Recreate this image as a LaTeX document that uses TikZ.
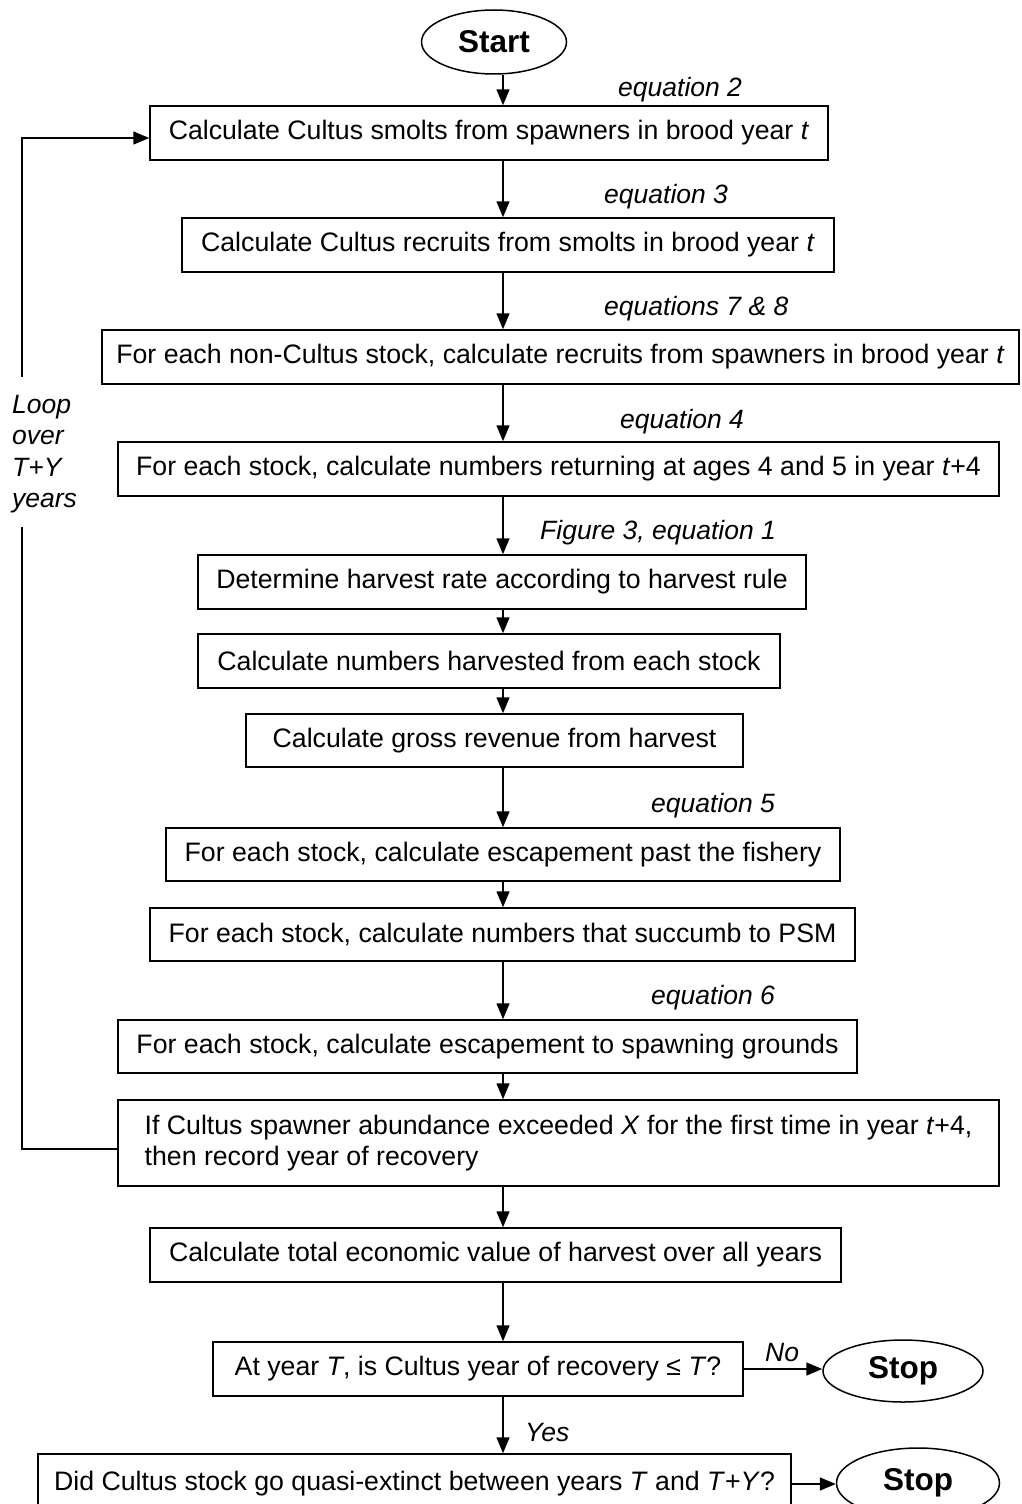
\documentclass[tikz,border=0pt]{standalone}
\usepackage{fontspec}
\setmainfont{Liberation Sans}
\usetikzlibrary{arrows.meta,shapes.geometric}
\newcommand\bxf{\fontsize{26.7}{31}\selectfont}
\newcommand\labf{\fontsize{26.5}{31.3}\selectfont\itshape}
\newcommand\bigf{\fontsize{31.5}{36}\selectfont\bfseries}
\begin{document}
\begin{tikzpicture}[x=1pt,y=-1pt,
  box/.style={draw, line width=1.5pt, rectangle, inner sep=0pt, minimum height=54pt, font=\bxf},
  term/.style={draw, line width=1.5pt, ellipse, inner sep=0pt, font=\bigf},
  lab/.style={font=\labf, anchor=west, inner sep=0pt},
  arr/.style={line width=1.5pt, -{Triangle[length=16pt,width=13pt]}},
  ln/.style={line width=1.5pt}]
\clip (0,0) rectangle (1021,1504);
\fill[white] (0,0) rectangle (1021,1504);
\coordinate (ax) at (503,0);

\node[term, minimum width=145pt, minimum height=64pt] (st) at (494,42) {Start};
\node[lab] (l2) at (618,90) {equation 2};
\node[box, minimum width=678pt] (b1) at (489,133) {Calculate Cultus smolts from spawners in brood year \textit{t}};
\node[lab] (l3) at (604,197) {equation 3};
\node[box, minimum width=652pt] (b2) at (508,245) {Calculate Cultus recruits from smolts in brood year \textit{t}};
\node[lab] (l78) at (604,309) {equations 7 \& 8};
\node[box, minimum width=917pt] (b3) at (560.5,357) {For each non-Cultus stock, calculate recruits from spawners in brood year \textit{t}};
\node[lab] (l4) at (620,422) {equation 4};
\node[box, minimum width=881pt] (b4) at (558.5,469) {For each stock, calculate numbers returning at ages 4 and 5 in year \textit{t}+4};
\node[lab] (l1) at (540,533) {Figure 3, equation 1};
\node[box, minimum width=608pt] (b5) at (502,582) {Determine harvest rate according to harvest rule};
\node[box, minimum width=582pt] (b6) at (489,661) {Calculate numbers harvested from each stock};
\node[box, minimum width=497pt, minimum height=53pt] (b7) at (494.5,740.5) {Calculate gross revenue from harvest};
\node[lab] (l5) at (651,806) {equation 5};
\node[box, minimum width=674pt, minimum height=53pt] (b8) at (503,854.5) {For each stock, calculate escapement past the fishery};
\node[box, minimum width=705pt, minimum height=53pt] (b9) at (502.5,934.5) {For each stock, calculate numbers that succumb to PSM};
\node[lab] (l6) at (651,998) {equation 6};
\node[box, minimum width=739pt, minimum height=53pt] (b10) at (487.5,1046.5) {For each stock, calculate escapement to spawning grounds};
\node[box, minimum width=881pt, minimum height=86pt, align=left] (b11) at (558.5,1143) {If Cultus spawner abundance exceeded \textit{X} for the first time in year \textit{t}+4,\\then record year of recovery};
\node[box, minimum width=691pt] (b12) at (495.5,1255) {Calculate total economic value of harvest over all years};
\node[box, minimum width=530pt] (b13) at (478,1369) {At year \textit{T}, is Cultus year of recovery ≤ \textit{T}?};
\node[term, minimum width=160pt, minimum height=62pt] (s1) at (903,1371) {Stop};
\node[lab] (lno) at (765,1352) {No};
\node[lab] (lyes) at (525,1432) {Yes};
\node[box, minimum width=753pt, minimum height=60pt] (b14) at (414.5,1484) {Did Cultus stock go quasi-extinct between years \textit{T} and \textit{T}+\textit{Y}?};
\node[term, minimum width=163pt, minimum height=70pt] (s2) at (918,1483) {Stop};

\node[lab, align=left, anchor=west] (loop) at (12,454) {Loop\\over\\T+Y\\years};
\coordinate (lb) at (22,527);
\coordinate (lt) at (22,377);

\draw[arr] (st.south -| ax) -- (b1.north -| ax);
\draw[arr] (b1.south -| ax) -- (b2.north -| ax);
\draw[arr] (b2.south -| ax) -- (b3.north -| ax);
\draw[arr] (b3.south -| ax) -- (b4.north -| ax);
\draw[arr] (b4.south -| ax) -- (b5.north -| ax);
\draw[arr] (b5.south -| ax) -- (b6.north -| ax);
\draw[arr] (b6.south -| ax) -- (b7.north -| ax);
\draw[arr] (b7.south -| ax) -- (b8.north -| ax);
\draw[arr] (b8.south -| ax) -- (b9.north -| ax);
\draw[arr] (b9.south -| ax) -- (b10.north -| ax);
\draw[arr] (b10.south -| ax) -- (b11.north -| ax);
\draw[arr] (b11.south -| ax) -- (b12.north -| ax);
\draw[arr] (b12.south -| ax) -- (b13.north -| ax);
\draw[arr] (b13.south -| ax) -- (b14.north -| ax);
\draw[arr] (b13.east) -- (b13.east -| s1.west);
\draw[arr] (b14.east) -- (b14.east -| s2.west);

\draw[ln] ([yshift=-6pt]b11.west) -| (lb);
\draw[arr] (lt) |- ([yshift=-5pt]b1.west);
\end{tikzpicture}
\end{document}
